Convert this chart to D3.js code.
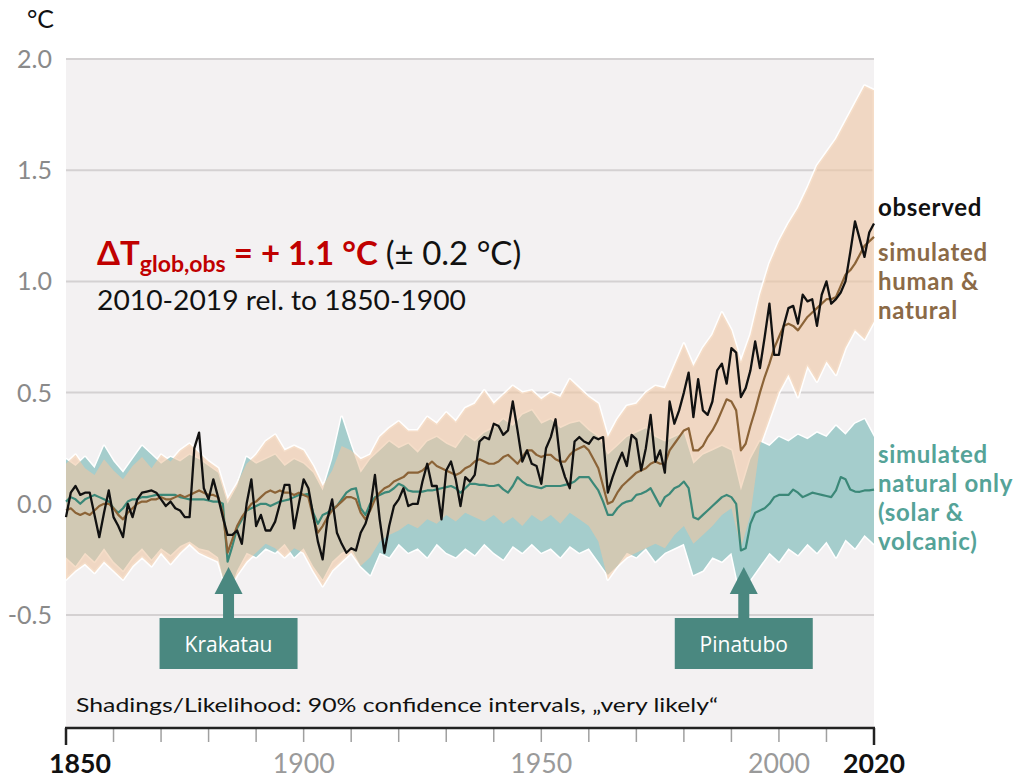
<!DOCTYPE html>
<html>
<head>
<meta charset="utf-8">
<script src="https://cdn.jsdelivr.net/npm/d3@7"></script>
<style>
  html, body { margin: 0; padding: 0; background: #ffffff; }
  svg { display: block; }
  text { font-family: Lato, "Open Sans", sans-serif; }
</style>
</head>
<body>
<svg id="chart" width="1022" height="778"></svg>
<script>
// ---- data -------------------------------------------------------------
const firstYear = 1850, lastYear = 2020;

// observed global surface temperature change, annual (°C rel. to 1850-1900)
const observed = [
  -0.06, 0.05, 0.08, 0.04, 0.05, 0.05, -0.05, -0.15, -0.04, 0.06,   // 1850-1859
  -0.06, -0.10, -0.15, 0.00, -0.06, 0.02, 0.05, 0.055, 0.06, 0.05,  // 1860-1869
  0.02, -0.01, 0.01, -0.02, -0.03, -0.06, -0.06, 0.25, 0.32, 0.07,  // 1870-1879
  0.02, 0.11, 0.03, -0.06, -0.14, -0.14, -0.12, -0.18, 0.00, 0.11,  // 1880-1889
  -0.10, -0.05, -0.12, -0.12, -0.08, 0.00, 0.085, 0.085, -0.11, 0.00, // 1890-1899
  0.11, 0.07, -0.05, -0.17, -0.25, -0.07, 0.02, -0.13, -0.18, -0.22, // 1900-1909
  -0.20, -0.21, -0.13, -0.09, -0.02, 0.13, -0.07, -0.22, -0.10, -0.01, // 1910-1919
  0.02, 0.07, -0.01, 0.00, 0.00, 0.10, 0.18, 0.08, 0.08, -0.07,     // 1920-1929
  0.15, 0.19, 0.11, -0.01, 0.12, 0.10, 0.13, 0.28, 0.30, 0.29,      // 1930-1939
  0.36, 0.35, 0.31, 0.33, 0.46, 0.33, 0.19, 0.24, 0.18, 0.17,       // 1940-1949
  0.09, 0.25, 0.30, 0.38, 0.19, 0.12, 0.07, 0.28, 0.30, 0.28,       // 1950-1959
  0.27, 0.30, 0.29, 0.30, 0.05, 0.12, 0.18, 0.23, 0.17, 0.31,       // 1960-1969
  0.29, 0.15, 0.25, 0.40, 0.19, 0.24, 0.14, 0.46, 0.36, 0.42,       // 1970-1979
  0.50, 0.59, 0.39, 0.56, 0.42, 0.40, 0.46, 0.60, 0.63, 0.54,       // 1980-1989
  0.70, 0.68, 0.48, 0.52, 0.60, 0.73, 0.61, 0.75, 0.90, 0.67,       // 1990-1999
  0.67, 0.80, 0.88, 0.89, 0.81, 0.94, 0.91, 0.92, 0.80, 0.94,       // 2000-2009
  1.00, 0.90, 0.92, 0.95, 1.00, 1.13, 1.27, 1.19, 1.11, 1.22,       // 2010-2019
  1.26                                                              // 2020
];

// simulated human & natural forcing, multi-model mean
const humanNatural = [
  -0.03, -0.02, -0.04, -0.05, -0.04, -0.05, -0.03, -0.01, 0.00, 0.00,
  -0.02, -0.05, -0.07, -0.04, -0.02, 0.00, 0.01, 0.01, 0.02, 0.02,
  0.03, 0.02, 0.02, 0.03, 0.04, 0.03, 0.04, 0.05, 0.06, 0.05,
  0.04, 0.04, 0.03, -0.04, -0.22, -0.16, -0.10, -0.06, -0.03, 0.00,
  0.01, 0.03, 0.05, 0.06, 0.05, 0.06, 0.05, 0.05, 0.04, 0.05,
  0.04, 0.03, -0.06, -0.13, -0.10, -0.06, -0.03, -0.01, 0.01, 0.03,
  0.03, 0.02, -0.04, -0.07, -0.03, 0.02, 0.05, 0.07, 0.08, 0.10,
  0.11, 0.12, 0.14, 0.14, 0.14, 0.15, 0.17, 0.19, 0.17, 0.16,
  0.15, 0.14, 0.13, 0.14, 0.16, 0.17, 0.19, 0.20, 0.19, 0.18,
  0.18, 0.19, 0.21, 0.22, 0.20, 0.18, 0.21, 0.24, 0.24, 0.22,
  0.21, 0.22, 0.22, 0.20, 0.19, 0.19, 0.22, 0.24, 0.25, 0.26,
  0.24, 0.20, 0.16, 0.08, 0.00, 0.01, 0.05, 0.08, 0.10, 0.12,
  0.14, 0.15, 0.16, 0.18, 0.19, 0.18, 0.18, 0.24, 0.27, 0.30,
  0.33, 0.34, 0.24, 0.24, 0.26, 0.30, 0.33, 0.37, 0.42, 0.47,
  0.46, 0.42, 0.24, 0.27, 0.35, 0.42, 0.50, 0.57, 0.63, 0.70,
  0.75, 0.80, 0.81, 0.80, 0.78, 0.81, 0.84, 0.86, 0.88, 0.90,
  0.92, 0.92, 0.93, 0.98, 1.03, 1.05, 1.08, 1.12, 1.16, 1.18,
  1.20
];

// simulated natural forcing only (solar & volcanic), multi-model mean
const naturalOnly = [
  0.01, 0.03, 0.02, 0.00, 0.02, 0.03, 0.04, 0.03, 0.02, 0.01,
  -0.02, -0.04, -0.02, 0.01, 0.02, 0.02, 0.03, 0.03, 0.035, 0.04,
  0.04, 0.04, 0.04, 0.04, 0.03, 0.025, 0.02, 0.02, 0.02, 0.02,
  0.015, 0.01, 0.01, 0.00, -0.26, -0.19, -0.11, -0.07, -0.03, -0.02,
  -0.01, 0.00, 0.00, -0.01, 0.00, 0.01, 0.015, 0.02, 0.03, 0.04,
  0.04, 0.045, -0.04, -0.09, -0.05, -0.04, -0.025, -0.01, 0.02, 0.05,
  0.065, 0.07, -0.02, -0.05, 0.00, 0.03, 0.04, 0.05, 0.055, 0.07,
  0.09, 0.08, 0.06, 0.055, 0.055, 0.055, 0.06, 0.06, 0.065, 0.07,
  0.075, 0.08, 0.07, 0.05, 0.07, 0.09, 0.09, 0.085, 0.085, 0.08,
  0.08, 0.085, 0.065, 0.05, 0.08, 0.12, 0.10, 0.085, 0.08, 0.075,
  0.07, 0.08, 0.08, 0.08, 0.08, 0.085, 0.09, 0.10, 0.12, 0.12,
  0.12, 0.09, 0.06, 0.01, -0.05, -0.05, -0.02, 0.00, 0.01, 0.015,
  0.04, 0.045, 0.055, 0.07, 0.03, -0.01, 0.03, 0.045, 0.07, 0.08,
  0.10, 0.07, -0.06, -0.07, -0.05, -0.03, -0.01, 0.01, 0.03, 0.04,
  0.03, 0.00, -0.21, -0.20, -0.09, -0.04, -0.03, -0.02, 0.00, 0.03,
  0.04, 0.04, 0.04, 0.064, 0.05, 0.03, 0.04, 0.05, 0.045, 0.04,
  0.035, 0.03, 0.06, 0.12, 0.11, 0.064, 0.055, 0.054, 0.06, 0.06,
  0.064
];

// 90 % ranges, sampled every second year from 1850 to 2020
const humanNaturalUpper = [
  0.18, 0.22, 0.16, 0.13, 0.20, 0.15, 0.11, 0.17, 0.21, 0.16,
  0.22, 0.19, 0.24, 0.27, 0.23, 0.19, 0.16, 0.02, 0.09, 0.18,
  0.22, 0.28, 0.31, 0.24, 0.26, 0.24, 0.17, 0.08, 0.15, 0.26,
  0.24, 0.20, 0.22, 0.30, 0.34, 0.37, 0.33, 0.33, 0.39, 0.36,
  0.41, 0.37, 0.43, 0.45, 0.51, 0.45, 0.49, 0.53, 0.50, 0.51,
  0.47, 0.50, 0.48, 0.56, 0.52, 0.48, 0.45, 0.30, 0.38, 0.44,
  0.45, 0.50, 0.53, 0.52, 0.62, 0.72, 0.62, 0.70, 0.76, 0.86,
  0.78, 0.64, 0.76, 0.94, 1.08, 1.18, 1.26, 1.33, 1.42, 1.52,
  1.58, 1.64, 1.72, 1.80, 1.88, 1.86
];
const humanNaturalLower = [
  -0.34, -0.30, -0.27, -0.31, -0.26, -0.30, -0.34, -0.28, -0.24, -0.28,
  -0.22, -0.27, -0.22, -0.18, -0.22, -0.24, -0.26, -0.40, -0.32, -0.26,
  -0.22, -0.18, -0.20, -0.24, -0.20, -0.22, -0.30, -0.37, -0.30, -0.26,
  -0.22, -0.28, -0.24, -0.17, -0.14, -0.12, -0.09, -0.11, -0.07, -0.09,
  -0.05, -0.08, -0.04, -0.06, -0.08, -0.05, -0.09, -0.06, -0.10, -0.05,
  -0.08, -0.05, -0.09, -0.04, -0.07, -0.10, -0.17, -0.34, -0.28, -0.24,
  -0.22, -0.20, -0.18, -0.20, -0.14, -0.10, -0.18, -0.14, -0.10, -0.05,
  -0.02, -0.20, -0.05, 0.26, 0.38, 0.50, 0.58, 0.48, 0.62, 0.55,
  0.64, 0.58, 0.70, 0.78, 0.74, 0.82
];
const naturalUpper = [
  0.20, 0.17, 0.21, 0.16, 0.26, 0.19, 0.14, 0.20, 0.26, 0.22,
  0.18, 0.21, 0.19, 0.22, 0.20, 0.17, 0.14, 0.00, 0.08, 0.21,
  0.18, 0.20, 0.22, 0.17, 0.20, 0.18, 0.14, 0.06, 0.20, 0.39,
  0.26, 0.14, 0.20, 0.24, 0.28, 0.25, 0.27, 0.23, 0.28, 0.30,
  0.27, 0.25, 0.31, 0.28, 0.32, 0.34, 0.38, 0.35, 0.40, 0.42,
  0.36, 0.38, 0.34, 0.36, 0.37, 0.33, 0.30, 0.22, 0.26, 0.30,
  0.32, 0.34, 0.30, 0.28, 0.30, 0.32, 0.18, 0.22, 0.24, 0.26,
  0.24, 0.06, 0.20, 0.28, 0.26, 0.30, 0.28, 0.31, 0.29, 0.32,
  0.30, 0.35, 0.31, 0.36, 0.38, 0.30
];
const naturalLower = [
  -0.24, -0.28, -0.22, -0.26, -0.20, -0.26, -0.30, -0.24, -0.20, -0.25,
  -0.20, -0.23, -0.19, -0.17, -0.20, -0.21, -0.24, -0.42, -0.30, -0.22,
  -0.24, -0.20, -0.22, -0.18, -0.24, -0.20, -0.28, -0.34, -0.26, -0.22,
  -0.20, -0.28, -0.32, -0.22, -0.24, -0.18, -0.22, -0.20, -0.24, -0.18,
  -0.22, -0.24, -0.20, -0.23, -0.18, -0.22, -0.25, -0.19, -0.22, -0.18,
  -0.22, -0.20, -0.24, -0.19, -0.22, -0.20, -0.26, -0.32, -0.28, -0.22,
  -0.24, -0.20, -0.26, -0.22, -0.20, -0.18, -0.32, -0.30, -0.24, -0.26,
  -0.22, -0.42, -0.34, -0.28, -0.22, -0.26, -0.20, -0.23, -0.18, -0.22,
  -0.17, -0.24, -0.16, -0.20, -0.14, -0.18
];

const yTicks = [-0.5, 0.0, 0.5, 1.0, 1.5, 2.0];
const xLabels = [
  { year: 1850, bold: true },
  { year: 1900, bold: false },
  { year: 1950, bold: false },
  { year: 2000, bold: false },
  { year: 2020, bold: true }
];
const eruptions = [
  { name: "Krakatau", year: 1884.2 },
  { name: "Pinatubo", year: 1992.6 }
];

// ---- layout ------------------------------------------------------------
const svg = d3.select("#chart");
const x = d3.scaleLinear().domain([firstYear, lastYear]).range([66, 874]);
const y = d3.scaleLinear().domain([-0.5, 2.0]).range([615, 59]);
const plotBottom = 728;

const years = d3.range(firstYear, lastYear + 1);
const bandYears = d3.range(firstYear, lastYear + 1, 2);

// panel background
svg.append("rect")
  .attr("x", x(firstYear)).attr("y", y(2.0))
  .attr("width", x(lastYear) - x(firstYear)).attr("height", plotBottom - y(2.0))
  .attr("fill", "#f3f1f2");

// horizontal grid
svg.append("g").selectAll("line").data(yTicks).join("line")
  .attr("x1", x(firstYear)).attr("x2", x(lastYear))
  .attr("y1", d => y(d)).attr("y2", d => y(d))
  .attr("stroke", "#d4d1d2").attr("stroke-width", 2);

// y tick labels
svg.append("g").selectAll("text").data(yTicks).join("text")
  .attr("x", 52).attr("y", d => y(d) + 9)
  .attr("text-anchor", "end")
  .attr("font-size", 25).attr("fill", "#8a8a8a")
  .text(d => d.toFixed(1));

svg.append("text").attr("x", 27).attr("y", 28)
  .attr("font-size", 25).attr("fill", "#111").text("°C");

// ---- uncertainty bands ------------------------------------------------
const natBand = bandYears.map((yr, i) => ({ yr, lo: naturalLower[i], hi: naturalUpper[i] }));
const hnBand = bandYears.map((yr, i) => ({ yr, lo: humanNaturalLower[i], hi: humanNaturalUpper[i] }));
const area = d3.area().x(d => x(d.yr)).y0(d => y(d.lo)).y1(d => y(d.hi));

const bands = svg.append("g");
// white rim around both ranges
[natBand, hnBand].forEach(b => {
  bands.append("path").attr("d", area(b))
    .attr("fill", "none").attr("stroke", "#ffffff").attr("stroke-width", 3)
    .attr("stroke-linejoin", "round");
});
bands.append("path").attr("d", area(natBand)).attr("fill", "#a5cdcc");
bands.append("path").attr("d", area(hnBand)).attr("fill", "#efc6a3").attr("fill-opacity", 0.6);

// ---- lines --------------------------------------------------------------
const line = d3.line().x((d, i) => x(years[i])).y(d => y(d));
svg.append("path").attr("d", line(naturalOnly))
  .attr("fill", "none").attr("stroke", "#3b8878").attr("stroke-width", 2.2)
  .attr("stroke-linejoin", "round");
svg.append("path").attr("d", line(humanNatural))
  .attr("fill", "none").attr("stroke", "#8b6337").attr("stroke-width", 2.2)
  .attr("stroke-linejoin", "round");
svg.append("path").attr("d", line(observed))
  .attr("fill", "none").attr("stroke", "#111111").attr("stroke-width", 2.3)
  .attr("stroke-linejoin", "round");

// ---- eruption markers ----------------------------------------------------
const boxTop = 618, boxH = 51, boxW = 138;
const erupt = svg.append("g").selectAll("g").data(eruptions).join("g");
erupt.append("rect")
  .attr("x", d => x(d.year) - boxW / 2).attr("y", boxTop)
  .attr("width", boxW).attr("height", boxH).attr("fill", "#4a8880");
erupt.append("rect")
  .attr("x", d => x(d.year) - 5.5).attr("y", 592)
  .attr("width", 11).attr("height", boxTop - 592).attr("fill", "#4a8880");
erupt.append("path")
  .attr("d", d => `M${x(d.year) - 14},594 L${x(d.year) + 14},594 L${x(d.year)},567 Z`)
  .attr("fill", "#4a8880");
erupt.append("text")
  .attr("x", d => x(d.year)).attr("y", boxTop + 34)
  .attr("text-anchor", "middle").attr("font-size", 21).attr("fill", "#ffffff")
  .style("font-family", "'Open Sans', sans-serif")
  .text(d => d.name);

// ---- headline annotation --------------------------------------------------
const head = svg.append("text").attr("x", 97).attr("y", 265)
  .attr("font-size", 33).style("font-family", "Lato, sans-serif");
head.append("tspan").attr("fill", "#c00000").attr("font-weight", 700).text("ΔT");
head.append("tspan").attr("fill", "#c00000").attr("font-weight", 700)
  .attr("font-size", 23).attr("dy", 7).text("glob,obs");
head.append("tspan").attr("fill", "#c00000").attr("font-weight", 700)
  .attr("dy", -7).text(" = + 1.1 °C ");
head.append("tspan").attr("fill", "#111").text("(± 0.2 °C)");

svg.append("text").attr("x", 97).attr("y", 310)
  .attr("font-size", 27).attr("fill", "#111")
  .style("font-family", "Lato, sans-serif")
  .attr("textLength", 369).attr("lengthAdjust", "spacingAndGlyphs")
  .text("2010-2019 rel. to 1850-1900");

svg.append("text").attr("x", 76).attr("y", 712)
  .attr("font-size", 20).attr("fill", "#111")
  .style("font-family", "Lato, sans-serif")
  .attr("textLength", 642).attr("lengthAdjust", "spacingAndGlyphs")
  .text("Shadings/Likelihood: 90% confidence intervals, „very likely“");

// ---- series labels ----------------------------------------------------------
const seriesLabels = [
  { lines: ["observed"], color: "#111111", y0: 216 },
  { lines: ["simulated", "human &", "natural"], color: "#8b6a47", y0: 261 },
  { lines: ["simulated", "natural only", "(solar &", "volcanic)"], color: "#55a398", y0: 463 }
];
seriesLabels.forEach(s => {
  svg.append("g").selectAll("text").data(s.lines).join("text")
    .attr("x", 878).attr("y", (d, i) => s.y0 + i * 29)
    .attr("font-size", 24).attr("font-weight", 700).attr("fill", s.color)
    .attr("letter-spacing", 0.7)
    .text(d => d);
});

// ---- x axis -------------------------------------------------------------------
const axisG = svg.append("g");
axisG.selectAll("line.tick").data(d3.range(1860, 2020, 10)).join("line")
  .attr("x1", d => x(d)).attr("x2", d => x(d))
  .attr("y1", plotBottom).attr("y2", plotBottom + 14)
  .attr("stroke", "#a0a0a0").attr("stroke-width", 1.5);
axisG.selectAll("line.end").data([firstYear, lastYear]).join("line")
  .attr("x1", d => x(d)).attr("x2", d => x(d))
  .attr("y1", plotBottom).attr("y2", plotBottom + 17)
  .attr("stroke", "#222").attr("stroke-width", 2.5);
axisG.append("line")
  .attr("x1", x(firstYear) - 1).attr("x2", x(lastYear) + 1)
  .attr("y1", plotBottom).attr("y2", plotBottom)
  .attr("stroke", "#222").attr("stroke-width", 2.5);
axisG.selectAll("text").data(xLabels).join("text")
  .attr("x", d => d.year === firstYear ? x(d.year) + 14 : x(d.year))
  .attr("y", 773).attr("text-anchor", "middle")
  .attr("font-size", 27)
  .attr("font-weight", d => d.bold ? 700 : 400)
  .attr("fill", d => d.bold ? "#111" : "#9a9a9a")
  .attr("textLength", 62).attr("lengthAdjust", "spacingAndGlyphs")
  .text(d => d.year);
</script>
</body>
</html>
